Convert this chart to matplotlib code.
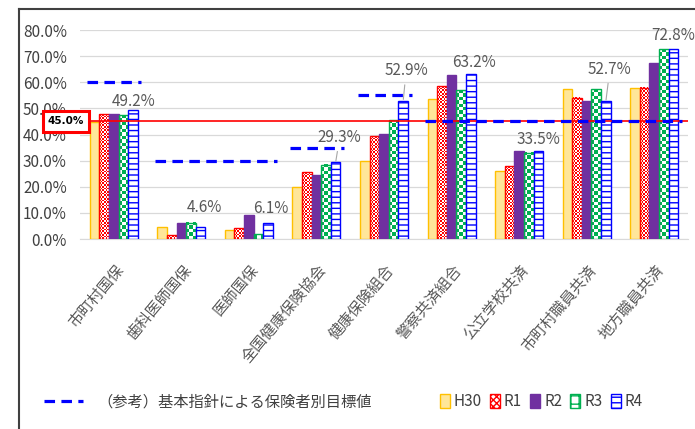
import numpy as np
import matplotlib.pyplot as plt
import matplotlib.transforms as mtransforms
from matplotlib.colors import to_rgb
from matplotlib.lines import Line2D
from matplotlib.patches import Patch

# data
categories = ['市町村国保', '歯科医師国保', '医師国保', '全国健康保険協会', '健康保険組合',
              '警察共済組合', '公立学校共済', '市町村職員共済', '地方職員共済']
years = ['H30', 'R1', 'R2', 'R3', 'R4']
h30 = [44.9, 4.7, 3.5, 19.8, 30.0, 53.5, 26.1, 57.4, 57.9]
r1 = [47.8, 1.4, 4.1, 25.5, 39.3, 58.5, 27.9, 54.0, 57.9]
r2 = [47.8, 6.3, 9.2, 24.5, 40.3, 62.6, 33.5, 52.9, 67.2]
r3 = [47.3, 6.3, 1.8, 28.5, 45.5, 57.0, 33.0, 57.4, 72.7]
r4 = [49.2, 4.6, 6.1, 29.3, 52.9, 63.2, 33.5, 52.7, 72.8]
targets = [60, 30, 30, 35, 55, 45, 45, 45, 45]
overall_target = 45.0
target_label = '（参考）基本指針による保険者別目標値'

plt.rcParams['font.family'] = ['Liberation Sans Narrow', 'Noto Sans CJK JP', 'DejaVu Sans']

W, H = 695, 429
fig = plt.figure(figsize=(W / 100, H / 100), dpi=100)
ax = fig.add_axes([80 / W, 1 - 239 / H, 608 / W, 209 / H])
ax.set_xlim(-0.5, len(categories) - 0.5)
ax.set_ylim(0, 80)

series = [h30, r1, r2, r3, r4]
styles = [
    dict(facecolor='#FFE699', edgecolor='#FFC000', hatch=None),
    dict(facecolor='white', edgecolor='#FF0000', hatch='xxxxx'),
    dict(facecolor='#7030A0', edgecolor='#7030A0', hatch=None),
    dict(facecolor='white', edgecolor='#00B050', hatch='++'),
    dict(facecolor='white', edgecolor='#0000FF', hatch='---'),
]
checker_cell = [None, 1.7, None, 3.4, None]   # checker size in pixels
x = np.arange(len(categories))
w = 0.142
px_x = ax.bbox.width / len(categories)
px_y = ax.bbox.height / 80


def checker_fill(bar, color, cell):
    x0, bw, bh = bar.get_x(), bar.get_width(), bar.get_height()
    nx = max(1, int(round(bw * px_x / cell)))
    ny = max(1, int(round(bh * px_y / cell)))
    grid = np.add.outer(np.arange(ny), np.arange(nx)) % 2
    img = np.where(grid[..., None] == 0, np.array(to_rgb(color)), np.ones(3))
    ax.imshow(img, extent=(x0, x0 + bw, 0, bh), origin='lower', aspect='auto',
              interpolation='nearest', zorder=2.9)


bar_sets = []
for j, (vals, st) in enumerate(zip(series, styles)):
    if checker_cell[j]:
        bars = ax.bar(x + (j - 2) * w, vals, w, linewidth=1.0, zorder=3,
                      facecolor='none', edgecolor=st['edgecolor'])
        for b in bars:
            checker_fill(b, st['edgecolor'], checker_cell[j])
    else:
        bars = ax.bar(x + (j - 2) * w, vals, w, linewidth=1.0, zorder=3, **st)
    bar_sets.append(bars)

# overall target line
ax.axhline(overall_target, color='#FF0000', lw=1.2, zorder=4)

# per-insurer target dashes (merge runs of equal value)
start = 0
for i in range(1, len(targets) + 1):
    if i == len(targets) or targets[i] != targets[start]:
        ax.hlines(targets[start], start - 0.39, i - 1 + 0.41, colors='#0000FF',
                  lw=2.3, linestyles=(0, (3.3, 2.0)), zorder=5)
        start = i

# data labels for R4
label_off = [(1, 9), (4, 19), (3, 15), (4, 25), (3, 30), (3, 11), (0, 12), (4, 32), (0, 13)]
leader = [False, False, False, True, True, False, False, True, False]
for i, b in enumerate(bar_sets[4]):
    cx = b.get_x() + b.get_width() / 2
    dx, dy = label_off[i]
    ax.annotate(f'{r4[i]:.1f}%', (cx, b.get_height()), xytext=(dx, dy),
                textcoords='offset pixels', ha='center', va='center',
                fontsize=11, color='#595959', zorder=6,
                arrowprops=dict(arrowstyle='-', color='#A6A6A6', lw=0.8,
                                shrinkA=2, shrinkB=1) if leader[i] else None)

# overall target box
ax.annotate(f'{overall_target:.1f}%', (0, overall_target), xycoords=ax.get_yaxis_transform(),
            xytext=(-14, 0), textcoords='offset pixels', ha='center', va='center',
            fontsize=7.5, fontweight='bold', color='black', family='DejaVu Sans', zorder=7,
            bbox=dict(boxstyle='square,pad=0.5', fc='white', ec='#FF0000', lw=2.2))

ax.set_yticks(np.arange(0, 81, 10))
ax.set_yticklabels([f'{v:.1f}%' for v in np.arange(0, 81, 10)])
ax.tick_params(axis='y', length=0, pad=9.5, labelsize=11, labelcolor='#404040')
ax.set_xticks([])
ax.grid(axis='y', color='#D9D9D9', lw=0.9, zorder=0)
for s in ['top', 'right', 'left']:
    ax.spines[s].set_visible(False)
ax.spines['bottom'].set_color('#D9D9D9')

# category labels
lab_tr = mtransforms.offset_copy(ax.get_xaxis_transform(), fig=fig, x=7, y=-28, units='dots')
for i, c in enumerate(categories):
    ax.text(i, 0, c, transform=lab_tr, rotation=50, rotation_mode='anchor',
            ha='right', va='center', fontsize=11, color='#595959')

# legends
fig.legend([Line2D([], [], color='#0000FF', lw=2.3, linestyle=(0, (3.3, 2.0)))],
           [target_label], loc='center left', bbox_to_anchor=(30 / W, 1 - 402 / H),
           frameon=False, handlelength=2.6, handletextpad=0.9, fontsize=11,
           labelcolor='#404040')
handles = [Patch(facecolor=st['facecolor'], edgecolor=st['edgecolor'], hatch=st['hatch'], lw=1)
           for st in styles]
fig.legend(handles, years, loc='center left', bbox_to_anchor=(426 / W, 1 - 402 / H),
           ncol=5, frameon=False, handlelength=0.65, handleheight=1.0, handletextpad=0.25,
           columnspacing=0.55, fontsize=11, labelcolor='#404040')

# outer chart frame (cropped at right and bottom)
fig.add_artist(Line2D([19 / W, 19 / W], [0, 1 - 9 / H], transform=fig.transFigure,
                      color='#404040', lw=1.5))
fig.add_artist(Line2D([19 / W, 1], [1 - 9 / H, 1 - 9 / H], transform=fig.transFigure,
                      color='#404040', lw=1.5))

fig.savefig('out.png', dpi=100)
